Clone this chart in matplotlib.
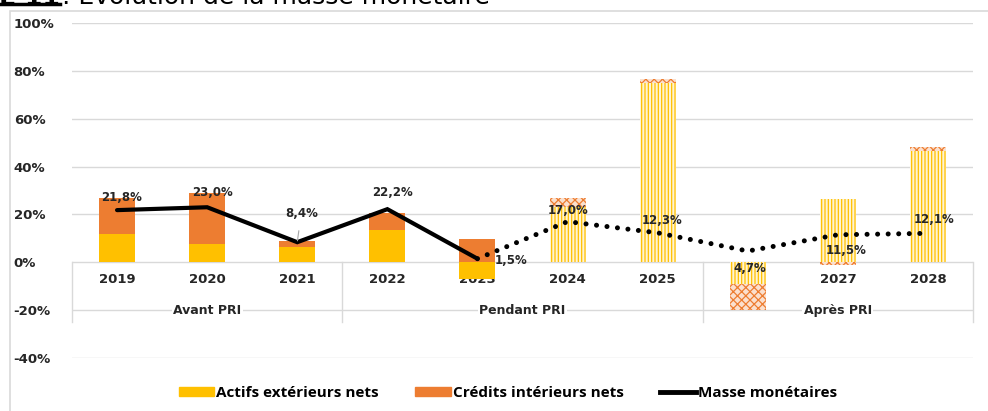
import matplotlib.pyplot as plt
from matplotlib.patches import Patch, Rectangle
from matplotlib.lines import Line2D

years = ['2019', '2020', '2021', '2022', '2023', '2024', '2025', '2026', '2027', '2028']
groups = ['Avant PRI', 'Pendant PRI', 'Après PRI']
group_first = [0, 3, 7]
group_last = [2, 6, 9]
actifs = [12.0, 7.5, 6.3, 13.7, -7.0, 23.0, 75.0, -9.0, 26.5, 46.5]
credits = [14.7, 21.5, 2.4, 7.1, 9.6, 4.0, 1.7, -11.0, -1.0, 1.5]
masse = [21.8, 23.0, 8.4, 22.2, 1.5, 17.0, 12.3, 4.7, 11.5, 12.1]
masse_txt = ['21,8%', '23,0%', '8,4%', '22,2%', '1,5%', '17,0%', '12,3%', '4,7%', '11,5%', '12,1%']
n_obs = 5  # 2019-2023 observed, then projections

YEL = '#FFC000'
ORA = '#ED7D31'
GRID = '#D9D9D9'
TXT = '#262626'

plt.rcParams['hatch.linewidth'] = 0.9
fig = plt.figure(figsize=(9.88, 4.11), dpi=100)
ax = fig.add_axes([72 / 988, 53 / 411, 901 / 988, 335 / 411])
ax.spines['bottom'].set_position(('data', 0))

x = list(range(len(years)))
for i in x:
    b2 = actifs[i] if actifs[i] * credits[i] > 0 else 0
    if i < n_obs:
        ax.bar(i, actifs[i], width=0.4, color=YEL, zorder=2)
        ax.bar(i, credits[i], bottom=b2, width=0.4, color=ORA, zorder=2)
    else:
        ax.bar(i, actifs[i], width=0.4, facecolor='#FFF4D2', edgecolor=YEL,
               hatch='|||||', linewidth=0, zorder=2)
        ax.bar(i, credits[i], bottom=b2, width=0.4, facecolor='#FBE0CE',
               edgecolor=ORA, hatch='xxxx', linewidth=0, zorder=2)

# masse monétaire : observé (trait plein) puis projection (pointillés)
ax.plot(x[:n_obs], masse[:n_obs], color='black', lw=3, solid_capstyle='round',
        solid_joinstyle='miter', zorder=4)
ax.plot(x[n_obs - 1:], masse[n_obs - 1:], color='black', lw=3.6,
        linestyle=(0, (0.01, 2.1)), dash_capstyle='round', zorder=4)

offsets = [(5, 13), (5, 15), (4, 29), (5, 17), (34, -2),
           (1, 11), (4, 12), (2, -17), (8, -16), (6, 14)]
for i in x:
    arrow = dict(arrowstyle='-', color='#A6A6A6', lw=0.8, shrinkA=6, shrinkB=1) if i == 2 else None
    ax.annotate(masse_txt[i], (i, masse[i]), xytext=offsets[i], textcoords='offset pixels',
                ha='center', va='center', fontsize=8.5, fontweight='bold', color=TXT,
                arrowprops=arrow, zorder=5)

ax.set_xlim(-0.5, 9.5)
ax.set_ylim(-40, 100)
ax.set_yticks(range(-40, 101, 20))
ax.set_yticklabels([f'{v}%' for v in range(-40, 101, 20)], fontsize=9.5,
                   fontweight='bold', color=TXT, ha='left')
ax.tick_params(axis='y', length=0, pad=42)
ax.set_xticks(x)
ax.set_xticklabels(years, fontsize=9.5, fontweight='bold', color=TXT)
ax.tick_params(axis='x', length=0, pad=8)
for s in ax.spines.values():
    s.set_visible(False)
ax.grid(axis='y', color=GRID, lw=1)
ax.set_axisbelow(True)

for xs in [-0.5, 2.5, 6.5, 9.5]:
    ax.plot([xs, xs], [0, -25], color=GRID, lw=1, zorder=1, clip_on=False)
for g, a, b in zip(groups, group_first, group_last):
    ax.text((a + b) / 2, -20, g, ha='center', va='center', fontsize=9,
            fontweight='bold', color=TXT, zorder=3,
            bbox=dict(facecolor='white', edgecolor='none', pad=1))

handles = [Patch(color=YEL), Patch(color=ORA), Line2D([], [], color='black', lw=3.5)]
fig.legend(handles, ['Actifs extérieurs nets', 'Crédits intérieurs nets', 'Masse monétaires'],
           loc='center', bbox_to_anchor=(0.514, 0.044), ncol=3, frameon=False,
           prop={'family': 'Open Sans', 'weight': 'bold', 'size': 11},
           handlelength=2.3, handleheight=0.6, handletextpad=0.15, columnspacing=2.4)

# cadre du graphique et titre coupé en haut
fig.patches.append(Rectangle((10 / 988, -0.1), 1.2, 1.1 - 11 / 411, transform=fig.transFigure,
                             fill=False, edgecolor=GRID, lw=1.2))
fig.text(60 / 988, 1 - 4 / 411, 'GRAPHIQUE 11', ha='right', va='baseline', fontsize=18,
         fontweight='bold')
fig.add_artist(Line2D([0, 60 / 988], [1 - 4.5 / 411, 1 - 4.5 / 411], color='black', lw=2.5,
                      transform=fig.transFigure))
fig.text(62 / 988, 1 - 4 / 411, ': Evolution de la masse monétaire', ha='left', va='baseline',
         fontsize=18)

fig.savefig('out.png', dpi=100)
